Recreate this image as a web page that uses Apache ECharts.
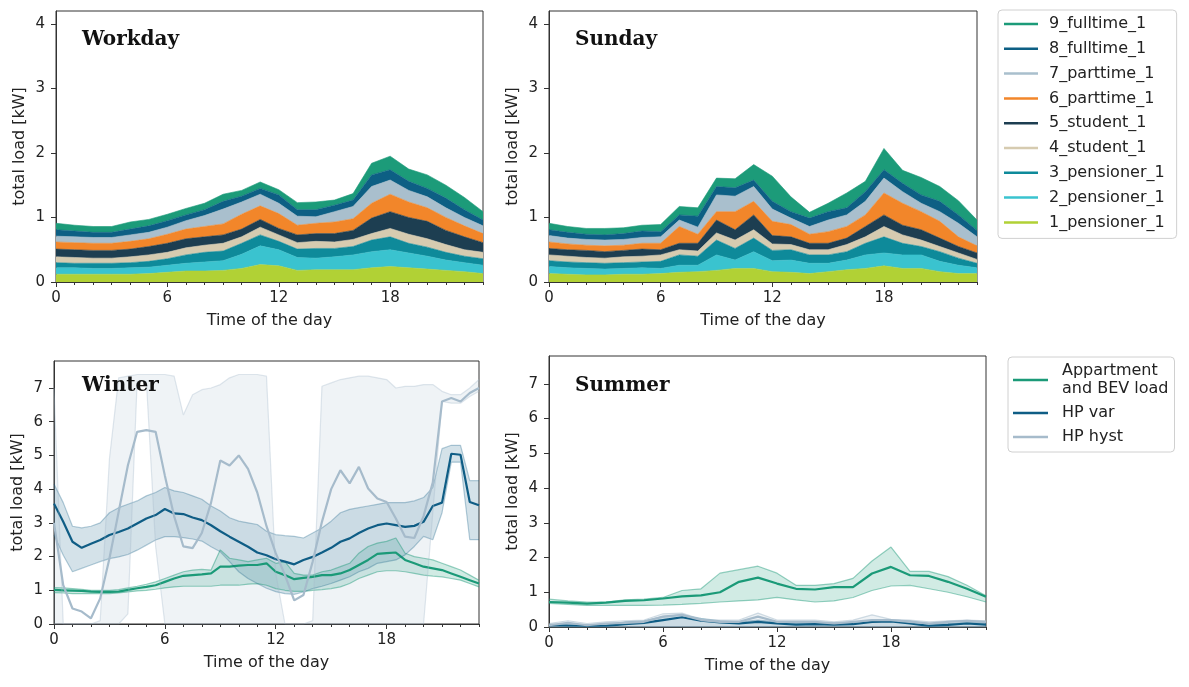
<!DOCTYPE html>
<html>
<head>
<meta charset="utf-8">
<script src="https://cdn.jsdelivr.net/npm/echarts@6/dist/echarts.min.js"></script>
<style>
  html, body { margin: 0; padding: 0; background: #fff; }
  #chart { width: 1189px; height: 687px; }
</style>
</head>
<body>
<div id="chart"></div>
<script>
// time grids (hour of the day)
var hours = [0,1,2,3,4,5,6,7,8,9,10,11,12,13,14,15,16,17,18,19,20,21,22,23];
var halfHours = [0,0.5,1,1.5,2,2.5,3,3.5,4,4.5,5,5.5,6,6.5,7,7.5,8,8.5,9,9.5,10,10.5,11,11.5,
    12,12.5,13,13.5,14,14.5,15,15.5,16,16.5,17,17.5,18,18.5,19,19.5,20,20.5,21,21.5,22,22.5,23];

// household names, bottom of the stack first
var layerNames = ['1_pensioner_1', '2_pensioner_1', '3_pensioner_1', '4_student_1', '5_student_1',
    '6_parttime_1', '7_parttime_1', '8_fulltime_1', '9_fulltime_1'];
var layerColors = ['#b1d135', '#3ac3cf', '#0e8a9a', '#d6cbb0', '#1d3e51',
    '#f2862a', '#a9bfcd', '#0d5f84', '#1c9b79'];

// Workday load per household [kW]
var wdPensioner1 = [0.12,0.12,0.12,0.12,0.12,0.13,0.15,0.17,0.17,0.18,0.21,0.27,0.25,0.18,0.19,0.19,0.19,0.22,0.24,0.22,0.20,0.18,0.16,0.13];
var wdPensioner2 = [0.10,0.10,0.09,0.09,0.10,0.10,0.11,0.12,0.14,0.15,0.22,0.29,0.25,0.20,0.18,0.20,0.23,0.25,0.26,0.23,0.20,0.16,0.14,0.13];
var wdPensioner3 = [0.08,0.07,0.08,0.08,0.08,0.09,0.10,0.13,0.15,0.15,0.17,0.17,0.13,0.13,0.15,0.13,0.13,0.18,0.20,0.15,0.14,0.12,0.10,0.10];
var wdStudent4   = [0.09,0.09,0.08,0.08,0.09,0.10,0.10,0.11,0.11,0.12,0.10,0.12,0.10,0.10,0.11,0.10,0.11,0.10,0.13,0.14,0.13,0.12,0.10,0.10];
var wdStudent5   = [0.12,0.12,0.12,0.12,0.12,0.13,0.14,0.14,0.13,0.13,0.12,0.12,0.10,0.12,0.12,0.13,0.14,0.24,0.26,0.26,0.27,0.22,0.20,0.15];
var wdParttime6  = [0.11,0.11,0.11,0.11,0.12,0.12,0.14,0.15,0.16,0.17,0.23,0.21,0.23,0.15,0.16,0.18,0.18,0.23,0.27,0.24,0.21,0.20,0.17,0.14];
var wdParttime7  = [0.09,0.09,0.09,0.09,0.10,0.10,0.11,0.13,0.17,0.23,0.19,0.18,0.16,0.14,0.10,0.16,0.19,0.26,0.22,0.18,0.17,0.15,0.13,0.12];
var wdFulltime8  = [0.10,0.09,0.08,0.08,0.09,0.10,0.10,0.09,0.09,0.12,0.09,0.09,0.13,0.10,0.11,0.10,0.10,0.18,0.16,0.14,0.13,0.15,0.12,0.09];
var wdFulltime9  = [0.10,0.09,0.09,0.09,0.11,0.10,0.10,0.10,0.10,0.11,0.09,0.10,0.08,0.11,0.12,0.08,0.10,0.18,0.21,0.19,0.21,0.20,0.19,0.13];

// Sunday load per household [kW]
var sunPensioner1 = [0.13,0.12,0.11,0.11,0.12,0.12,0.13,0.15,0.16,0.18,0.21,0.21,0.16,0.15,0.13,0.16,0.19,0.21,0.25,0.21,0.21,0.16,0.13,0.13];
var sunPensioner2 = [0.11,0.10,0.10,0.09,0.09,0.10,0.08,0.11,0.10,0.24,0.13,0.26,0.17,0.19,0.16,0.13,0.15,0.21,0.20,0.21,0.21,0.16,0.13,0.09];
var sunPensioner3 = [0.09,0.09,0.09,0.09,0.09,0.09,0.11,0.16,0.14,0.23,0.18,0.21,0.16,0.16,0.13,0.13,0.13,0.18,0.25,0.18,0.13,0.15,0.11,0.07];
var sunStudent4   = [0.09,0.09,0.08,0.08,0.09,0.09,0.10,0.08,0.08,0.11,0.13,0.13,0.10,0.08,0.08,0.08,0.11,0.10,0.16,0.13,0.10,0.08,0.08,0.06];
var sunStudent5   = [0.10,0.10,0.11,0.10,0.10,0.11,0.08,0.10,0.12,0.20,0.16,0.23,0.13,0.12,0.10,0.10,0.10,0.16,0.18,0.15,0.16,0.13,0.10,0.10];
var sunParttime6  = [0.10,0.09,0.08,0.09,0.08,0.09,0.10,0.26,0.14,0.13,0.28,0.21,0.22,0.19,0.14,0.18,0.18,0.18,0.34,0.34,0.28,0.26,0.15,0.11];
var sunParttime7  = [0.10,0.09,0.09,0.09,0.09,0.09,0.10,0.10,0.11,0.26,0.24,0.23,0.19,0.10,0.12,0.18,0.18,0.21,0.23,0.18,0.13,0.15,0.21,0.14];
var sunFulltime8  = [0.09,0.09,0.08,0.08,0.09,0.10,0.08,0.08,0.17,0.13,0.13,0.10,0.12,0.10,0.13,0.13,0.11,0.15,0.13,0.13,0.13,0.16,0.13,0.10];
var sunFulltime9  = [0.10,0.09,0.09,0.10,0.09,0.09,0.11,0.13,0.13,0.13,0.14,0.24,0.39,0.23,0.09,0.13,0.23,0.16,0.33,0.20,0.27,0.23,0.22,0.16];

// Winter (half hourly): mean and band for each load
var wiAppMean = [1.01,1.00,0.99,0.98,0.96,0.95,0.95,0.96,1.01,1.06,1.10,1.15,1.25,1.35,1.43,1.45,1.47,1.50,1.70,1.70,
    1.73,1.75,1.75,1.80,1.55,1.45,1.33,1.37,1.40,1.45,1.45,1.50,1.60,1.75,1.90,2.08,2.10,2.12,1.90,1.80,1.70,1.65,1.60,1.50,1.40,1.30,1.20];
var wiAppLow = [0.93,0.92,0.90,0.90,0.90,0.90,0.90,0.92,0.95,0.98,1.00,1.03,1.07,1.10,1.12,1.12,1.12,1.12,1.15,1.15,
    1.15,1.18,1.20,1.15,1.05,1.00,0.97,0.97,1.00,1.02,1.05,1.10,1.20,1.35,1.45,1.55,1.58,1.58,1.55,1.50,1.45,1.42,1.40,1.35,1.30,1.20,1.10];
var wiAppHigh = [1.08,1.07,1.05,1.03,1.00,1.00,1.00,1.02,1.07,1.12,1.18,1.25,1.35,1.45,1.55,1.60,1.62,1.60,2.20,1.95,
    1.90,1.85,1.90,1.95,1.80,1.85,1.50,1.45,1.45,1.55,1.60,1.70,1.80,2.10,2.30,2.40,2.45,2.55,2.10,2.00,1.95,1.90,1.80,1.70,1.60,1.45,1.30];
var wiVarMean = [3.57,3.03,2.44,2.26,2.38,2.49,2.64,2.73,2.83,2.98,3.13,3.23,3.41,3.28,3.26,3.16,3.08,2.93,2.75,2.59,
    2.44,2.29,2.12,2.04,1.92,1.85,1.77,1.90,1.99,2.12,2.26,2.44,2.54,2.70,2.83,2.93,2.98,2.93,2.88,2.91,3.03,3.50,3.60,5.05,5.02,3.62,3.52];
var wiVarLow = [2.64,2.04,1.55,1.65,1.75,1.85,1.94,1.99,2.06,2.19,2.34,2.49,2.59,2.59,2.56,2.52,2.46,2.29,2.14,1.85,
    1.55,1.35,1.20,1.06,0.96,0.90,0.88,0.95,1.05,1.12,1.20,1.30,1.40,1.55,1.65,1.80,1.85,1.90,2.05,2.30,2.60,2.50,3.30,4.80,4.80,2.50,2.50];
var wiVarHigh = [4.15,3.60,2.90,2.85,2.90,3.00,3.30,3.45,3.55,3.65,3.80,3.90,4.05,3.95,3.90,3.80,3.70,3.50,3.35,3.15,
    3.05,3.00,2.95,2.75,2.65,2.62,2.60,2.55,2.70,2.85,3.05,3.30,3.40,3.45,3.50,3.55,3.60,3.60,3.60,3.65,3.75,4.05,5.20,5.30,5.30,4.25,4.25];
var wiHystMean = [3.00,1.15,0.46,0.37,0.17,0.76,1.94,3.33,4.71,5.70,5.75,5.70,4.40,3.20,2.30,2.25,2.70,3.60,4.85,4.70,
    5.00,4.60,3.90,2.90,2.10,1.45,0.70,0.86,1.85,3.03,4.00,4.56,4.17,4.66,4.02,3.72,3.62,3.13,2.59,2.55,3.20,4.20,6.60,6.70,6.60,6.85,7.00];
var wiHystLow = [0,0,0,0,0,0,0,0,0.30,7.20,7.20,2.30,0,0,0,0,0,0,0,0,
    0,0,0,0,0,0,0,0,0,0,0,0,0,0,0,0,0,0,0,0,0,3.30,6.60,6.55,6.55,6.75,6.90];
var wiHystHigh = [7.00,0,0,0,0,0.10,4.90,7.30,7.35,7.40,7.40,7.40,7.40,7.35,6.20,6.80,6.95,7.00,7.10,7.30,
    7.40,7.40,7.40,7.35,1.50,0,0,0,0.10,7.05,7.15,7.25,7.30,7.35,7.35,7.30,7.25,7.00,7.05,7.05,7.10,7.10,6.90,6.80,6.80,7.00,7.25];

// Summer (hourly)
var smAppMean = [0.72,0.70,0.67,0.70,0.75,0.77,0.82,0.88,0.91,1.00,1.30,1.42,1.25,1.10,1.08,1.15,1.15,1.54,1.73,1.49,1.47,1.30,1.10,0.87];
var smAppLow  = [0.68,0.65,0.62,0.62,0.62,0.62,0.63,0.65,0.68,0.72,0.75,0.78,0.85,0.78,0.72,0.75,0.85,1.05,1.18,1.20,1.10,1.00,0.87,0.72];
var smAppHigh = [0.80,0.75,0.72,0.72,0.78,0.80,0.85,1.05,1.10,1.55,1.65,1.75,1.55,1.20,1.20,1.25,1.40,1.90,2.30,1.60,1.60,1.45,1.20,0.90];
var smVarMean = [0.05,0.04,0.03,0.03,0.08,0.12,0.20,0.28,0.18,0.13,0.10,0.15,0.10,0.07,0.08,0.07,0.08,0.15,0.16,0.10,0.03,0.06,0.10,0.07];
var smVarLow  = [0,0,0,0,0,0,0,0,0,0,0,0,0,0,0,0,0,0,0,0,0,0,0,0];
var smVarHigh = [0.08,0.06,0.05,0.05,0.15,0.18,0.30,0.35,0.25,0.18,0.15,0.20,0.15,0.12,0.12,0.12,0.12,0.20,0.20,0.18,0.10,0.10,0.14,0.12];
var smHystMean = [0.05,0.12,0.05,0.10,0.12,0.15,0.30,0.35,0.20,0.15,0.15,0.30,0.15,0.15,0.15,0.10,0.15,0.20,0.20,0.15,0.10,0.15,0.18,0.15];
var smHystLow  = [0,0,0,0,0,0,0,0,0,0,0,0,0,0,0,0,0,0,0,0,0,0,0,0];
var smHystHigh = [0.10,0.18,0.10,0.15,0.18,0.20,0.38,0.40,0.22,0.20,0.20,0.40,0.20,0.20,0.20,0.15,0.20,0.35,0.22,0.20,0.15,0.18,0.20,0.18];

var appName = 'Appartment\nand BEV load';
var varName = 'HP var';
var hystName = 'HP hyst';
var appColor = '#1b9a78';
var varColor = '#0f5d85';
var hystColor = '#a6bbcb';

var workdayLayers = [wdPensioner1, wdPensioner2, wdPensioner3, wdStudent4, wdStudent5, wdParttime6, wdParttime7, wdFulltime8, wdFulltime9];
var sundayLayers = [sunPensioner1, sunPensioner2, sunPensioner3, sunStudent4, sunStudent5, sunParttime6, sunParttime7, sunFulltime8, sunFulltime9];

var FONT = 'DejaVu Sans';
var INK = '#222';

function stackSeries(layers, stackId, grid) {
    return layers.map(function (vals, i) {
        return {
            name: layerNames[i], type: 'line', stack: stackId,
            xAxisIndex: grid * 2, yAxisIndex: grid,
            symbol: 'none', color: layerColors[i],
            lineStyle: { width: 0.6, color: layerColors[i] },
            areaStyle: { color: layerColors[i], opacity: 1 },
            data: vals
        };
    });
}

// band = transparent lower part + stacked (high - low) part
function bandSeries(id, low, high, color, fillAlpha, edgeAlpha, grid) {
    var diff = high.map(function (h, i) { return Math.max(0, h - low[i]); });
    var edge = { color: color, opacity: edgeAlpha, width: 1.2 };
    return [{
        name: id + '_low', type: 'line', stack: id, xAxisIndex: grid * 2, yAxisIndex: grid,
        symbol: 'none', lineStyle: edge, silent: true, data: low
    }, {
        name: id + '_band', type: 'line', stack: id, xAxisIndex: grid * 2, yAxisIndex: grid,
        symbol: 'none', lineStyle: edge, silent: true,
        areaStyle: { color: color, opacity: fillAlpha }, data: diff
    }];
}

function meanSeries(name, vals, color, grid) {
    return {
        name: name, type: 'line', xAxisIndex: grid * 2, yAxisIndex: grid,
        symbol: 'none', color: color, lineStyle: { color: color, width: 2.2 },
        data: vals
    };
}

// one labelled axis (every 6 h) and one for the hourly minor ticks
function xAxes(grid, cats, perHour) {
    return [{
        type: 'category', gridIndex: grid, data: cats, boundaryGap: false, position: 'bottom',
        axisLine: { show: true, lineStyle: { color: '#333', width: 1 } },
        axisTick: { show: true, length: 5, interval: 6 * perHour - 1, lineStyle: { color: '#333' } },
        axisLabel: { interval: 6 * perHour - 1, fontSize: 15, color: INK, margin: 9, fontFamily: FONT },
        splitLine: { show: false },
        name: 'Time of the day', nameLocation: 'middle', nameGap: 31,
        nameTextStyle: { fontSize: 16, color: INK, fontFamily: FONT }
    }, {
        type: 'category', gridIndex: grid, data: cats, boundaryGap: false, position: 'bottom',
        axisLine: { show: false },
        axisTick: { show: true, length: 3, interval: perHour - 1, lineStyle: { color: '#333' } },
        axisLabel: { show: false }, splitLine: { show: false }
    }];
}

function yAxis(grid, max, ticks) {
    return {
        type: 'value', gridIndex: grid, min: 0, max: max, interval: 1,
        axisLine: { show: true, lineStyle: { color: '#333', width: 1 } },
        axisTick: { show: true, length: 5, customValues: ticks, lineStyle: { color: '#333' } },
        axisLabel: { customValues: ticks, fontSize: 15, color: INK, margin: 11, fontFamily: FONT },
        splitLine: { show: false },
        name: 'total load [kW]', nameLocation: 'middle', nameGap: 28, nameRotate: 90,
        nameTextStyle: { fontSize: 16, color: INK, fontFamily: FONT }
    };
}

function panelTitle(text, x, y) {
    return {
        type: 'text', x: x, y: y, z: 100,
        style: { text: text, fill: '#111', font: 'bold 20px "DejaVu Serif"', textVerticalAlign: 'middle' }
    };
}

var series = []
    .concat(stackSeries(workdayLayers, 'workday', 0))
    .concat(stackSeries(sundayLayers, 'sunday', 1))
    // winter
    .concat(bandSeries('wiApp', wiAppLow, wiAppHigh, appColor, 0.2, 0.45, 2))
    .concat([meanSeries(appName, wiAppMean, appColor, 2)])
    .concat(bandSeries('wiVar', wiVarLow, wiVarHigh, varColor, 0.18, 0.3, 2))
    .concat([meanSeries(varName, wiVarMean, varColor, 2)])
    .concat(bandSeries('wiHyst', wiHystLow, wiHystHigh, hystColor, 0.18, 0.35, 2))
    .concat([meanSeries(hystName, wiHystMean, hystColor, 2)])
    // summer
    .concat(bandSeries('smApp', smAppLow, smAppHigh, appColor, 0.2, 0.45, 3))
    .concat([meanSeries(appName, smAppMean, appColor, 3)])
    .concat(bandSeries('smVar', smVarLow, smVarHigh, varColor, 0.18, 0.3, 3))
    .concat([meanSeries(varName, smVarMean, varColor, 3)])
    .concat(bandSeries('smHyst', smHystLow, smHystHigh, hystColor, 0.18, 0.5, 3))
    .concat([meanSeries(hystName, smHystMean, hystColor, 3)]);

var chart = echarts.init(document.getElementById('chart'), null, { renderer: 'canvas' });

chart.setOption({
    animation: false,
    backgroundColor: '#fff',
    textStyle: { fontFamily: FONT },
    grid: [
        { left: 56, top: 11, width: 427, height: 271, show: true, borderColor: '#333', borderWidth: 1 },
        { left: 549, top: 11, width: 428, height: 271, show: true, borderColor: '#333', borderWidth: 1 },
        { left: 54, top: 361, width: 425, height: 263, show: true, borderColor: '#333', borderWidth: 1 },
        { left: 549, top: 356, width: 437, height: 271, show: true, borderColor: '#333', borderWidth: 1 }
    ],
    xAxis: [].concat(xAxes(0, hours, 1), xAxes(1, hours, 1), xAxes(2, halfHours, 2), xAxes(3, hours, 1)),
    yAxis: [
        yAxis(0, 4.2, [0, 1, 2, 3, 4]),
        yAxis(1, 4.2, [0, 1, 2, 3, 4]),
        yAxis(2, 7.8, [0, 1, 2, 3, 4, 5, 6, 7]),
        yAxis(3, 7.8, [0, 1, 2, 3, 4, 5, 6, 7])
    ],
    legend: [{
        data: layerNames.slice().reverse(),
        orient: 'vertical', left: 998, top: 10,
        icon: 'rect', itemWidth: 34, itemHeight: 2.5, itemGap: 6.8,
        padding: [5, 12, 7, 6],
        borderColor: '#d0d0d0', borderWidth: 1, borderRadius: 4,
        textStyle: { fontSize: 16, color: INK, lineHeight: 18, fontFamily: FONT, padding: [0, 0, 0, 6] },
        selectedMode: false
    }, {
        data: [appName, varName, hystName],
        orient: 'vertical', left: 1008, top: 357,
        icon: 'rect', itemWidth: 35, itemHeight: 2.5, itemGap: 6,
        padding: [5, 6, 6, 5],
        borderColor: '#d0d0d0', borderWidth: 1, borderRadius: 4,
        textStyle: { fontSize: 16, color: INK, lineHeight: 18, fontFamily: FONT, padding: [0, 0, 0, 9] },
        selectedMode: false
    }],
    graphic: [
        panelTitle('Workday', 82, 40),
        panelTitle('Sunday', 575, 40),
        panelTitle('Winter', 82, 386),
        panelTitle('Summer', 575, 386)
    ],
    series: series
});
</script>
</body>
</html>
